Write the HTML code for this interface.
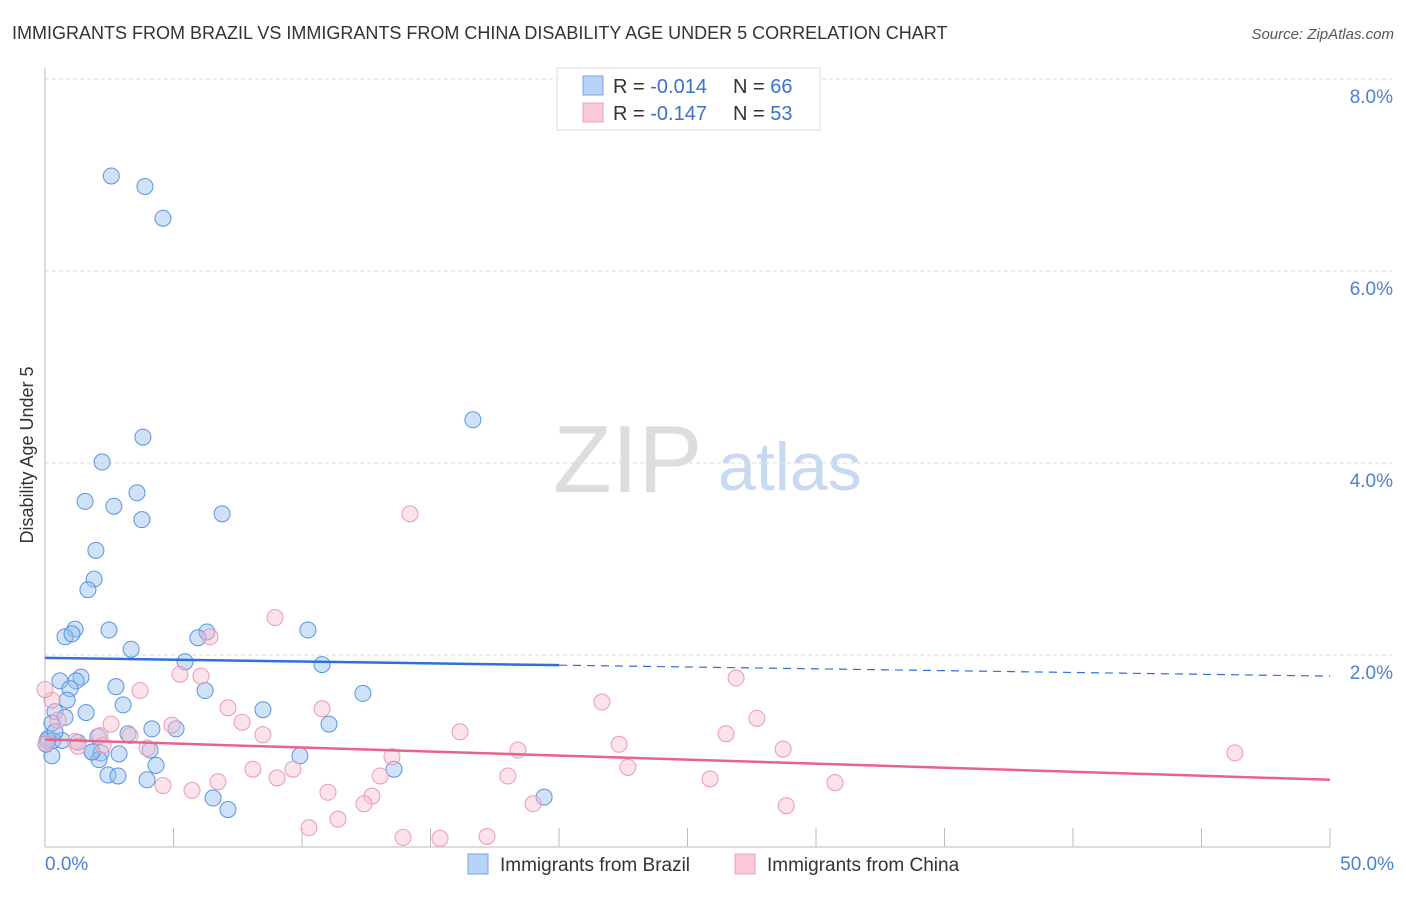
<!DOCTYPE html>
<html><head><meta charset="utf-8"><style>
body{margin:0;background:#fff;font-family:"Liberation Sans",sans-serif}
svg text{font-family:"Liberation Sans",sans-serif}
</style></head><body>
<svg width="1406" height="892" xmlns="http://www.w3.org/2000/svg" id="chart">
<text x="12" y="39" font-size="18" fill="#333">IMMIGRANTS FROM BRAZIL VS IMMIGRANTS FROM CHINA DISABILITY AGE UNDER 5 CORRELATION CHART</text>
<text x="1394" y="39" font-size="15" fill="#555" font-style="italic" text-anchor="end">Source: ZipAtlas.com</text>
<text x="33" y="455" font-size="18" fill="#333" text-anchor="middle" transform="rotate(-90 33 455)">Disability Age Under 5</text>
<text x="553" y="492" font-size="96" fill="#ddd" font-family="Liberation Serif">ZIP</text>
<text x="718" y="490" font-size="68" fill="#c8daf2">atlas</text>
<g id="grid"></g><g id="axes"></g><g id="points"></g><g id="trends"></g>
<g>
<rect x="557" y="68" width="263" height="62" fill="#fff" stroke="#ddd"/>
<rect x="583" y="76" width="20" height="19" fill="#b8d3f5" stroke="#7aa6e6"/>
<rect x="583" y="103" width="20" height="19" fill="#f9c9d7" stroke="#eea0b8"/>
<text x="613" y="93" font-size="20" fill="#333">R = <tspan fill="#3a70d0">-0.014</tspan><tspan x="733">N = </tspan><tspan fill="#3a70d0">66</tspan></text>
<text x="613" y="120" font-size="20" fill="#333">R = <tspan fill="#3a70d0"> -0.147</tspan><tspan x="733">N = </tspan><tspan fill="#3a70d0">53</tspan></text>
</g>
<g>
<rect x="468" y="854" width="20" height="20" fill="#b8d3f5" stroke="#7aa6e6"/>
<text x="500" y="871" font-size="19" fill="#333">Immigrants from Brazil</text>
<rect x="735" y="854" width="20" height="20" fill="#f9c9d7" stroke="#eea0b8"/>
<text x="767" y="871" font-size="19" fill="#333">Immigrants from China</text>
</g>
</svg>
<script>
const yTicks=[2,4,6,8];
const yTickLabels=["2.0%","4.0%","6.0%","8.0%"];
const xTickLabels=["0.0%","50.0%"];
const brazilX=[2.58,3.89,4.59,16.65,3.81,2.22,3.58,1.56,2.68,3.77,6.89,1.98,1.91,1.67,1.17,0.78,1.05,2.49,6.30,5.95,10.23,3.35,5.45,10.78,1.40,0.58,1.21,0.97,2.76,6.23,12.37,0.86,3.04,8.48,0.39,1.60,0.78,11.05,0.27,5.10,4.16,3.23,2.06,0.31,0.66,0.08,1.28,1.83,4.09,2.18,2.88,0.27,4.32,2.10,13.58,2.45,2.84,3.97,9.92,6.54,7.12,19.42,0.12,0.39,1.83,0.04];
const brazilY=[6.99,6.88,6.55,4.45,4.27,4.01,3.69,3.60,3.55,3.41,3.47,3.09,2.79,2.68,2.27,2.19,2.22,2.26,2.24,2.18,2.26,2.06,1.93,1.90,1.77,1.73,1.73,1.65,1.67,1.63,1.60,1.53,1.48,1.43,1.41,1.40,1.35,1.28,1.29,1.23,1.23,1.18,1.15,1.11,1.11,1.11,1.09,0.99,1.01,0.98,0.97,0.95,0.85,0.91,0.81,0.75,0.74,0.70,0.95,0.51,0.39,0.52,1.13,1.20,0.99,1.07];
const chinaX=[8.95,14.20,6.42,5.25,6.07,3.70,26.89,21.67,27.70,7.12,10.78,16.15,26.50,7.67,8.48,2.57,4.94,3.31,1.17,2.14,22.34,28.72,18.40,13.50,3.97,1.28,0.51,0.27,0,22.68,8.09,9.65,13.04,18.01,25.88,30.74,6.73,9.03,4.59,5.72,11.01,12.72,12.41,18.99,28.84,11.40,10.27,13.93,15.37,17.20,46.30,0.04,2.26];
const chinaY=[2.39,3.47,2.19,1.80,1.78,1.63,1.76,1.51,1.34,1.45,1.44,1.20,1.18,1.30,1.17,1.28,1.27,1.16,1.10,1.16,1.07,1.02,1.01,0.94,1.03,1.05,1.32,1.53,1.64,0.83,0.81,0.81,0.74,0.74,0.71,0.67,0.68,0.72,0.64,0.59,0.57,0.53,0.45,0.45,0.43,0.29,0.20,0.10,0.09,0.11,0.98,1.08,1.06];
const brazilTrend=[1.97,1.78];
const chinaTrend=[1.12,0.70];
const X0=45,X1=1330,Y0=847,PXPERPCT=96;
const xs=v=>X0+(X1-X0)*v/50;
const ys=v=>Y0-v*PXPERPCT;
const NS="http://www.w3.org/2000/svg";
function mk(tag,attrs,parent){const e=document.createElementNS(NS,tag);for(const k in attrs)e.setAttribute(k,attrs[k]);document.getElementById(parent).appendChild(e);return e;}
yTicks.forEach((t,i)=>{
 const l=mk("line",{x1:X0,x2:1392,y1:ys(t),y2:ys(t),stroke:"#ddd","stroke-dasharray":"4 3"},"grid");
 
 
 const tx=mk("text",{x:1393,y:ys(t)+24,"font-size":19,fill:"#4a7fd6","text-anchor":"end"},"grid");
 tx.textContent=yTickLabels[i];
 
 
});
const ax=mk("line",{x1:X0,x2:X0,y1:68,y2:Y0,stroke:"#bbb"},"axes");


const bx=mk("line",{x1:X0,x2:X1,y1:Y0,y2:Y0,stroke:"#bbb"},"axes");


for(let i=0;i<=10;i++){const t=mk("line",{x1:xs(i*5),x2:xs(i*5),y1:828,y2:Y0,stroke:"#bbb"},"axes");
 
 }
[[0,"start",45],[50,"end",1394]].forEach((d,i)=>{const t=mk("text",{x:d[2],y:870,"font-size":19,fill:"#4a7fd6","text-anchor":d[1]},"axes");t.textContent=xTickLabels[i];
 
 });
brazilX.forEach((x,i)=>{const c=mk("circle",{cx:xs(x),cy:ys(brazilY[i]),r:8,fill:"rgba(150,190,240,0.45)",stroke:"#5b93e0","stroke-width":1},"points");
 
 });
chinaX.forEach((x,i)=>{const c=mk("circle",{cx:xs(x),cy:ys(chinaY[i]),r:8,fill:"rgba(248,190,208,0.45)",stroke:"#ec9ab3","stroke-width":1},"points");
 
 });
const bAt=x=>brazilTrend[0]+(brazilTrend[1]-brazilTrend[0])*x/50;
const t1=mk("line",{x1:xs(0),y1:ys(bAt(0)),x2:xs(20),y2:ys(bAt(20)),stroke:"#2f6fd6","stroke-width":2.5},"trends");


const t2=mk("line",{x1:xs(20),y1:ys(bAt(20)),x2:xs(50),y2:ys(bAt(50)),stroke:"#2f6fd6","stroke-width":1.2,"stroke-dasharray":"8 6"},"trends");


const t3=mk("line",{x1:xs(0),y1:ys(chinaTrend[0]),x2:xs(50),y2:ys(chinaTrend[1]),stroke:"#e8628e","stroke-width":2.5},"trends");


</script>
</body></html>
